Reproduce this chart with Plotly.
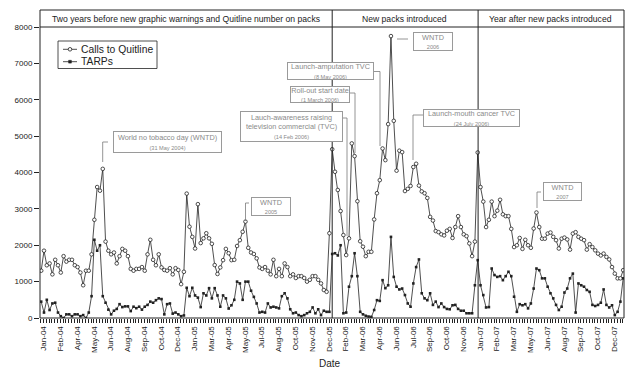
import datetime as dt
import plotly.graph_objects as go

# ---------------- data (weekly) ----------------
START = dt.date(2004, 1, 4)

CALLS = [
    1300, 1850, 1450, 1500, 1200, 1600, 1450, 1250, 1700, 1550,   # 0-9
    1600, 1600, 1450, 1400, 1250, 900, 1300, 1300, 1750, 2700,    # 10-19
    3600, 3500, 4100, 2100, 1850, 1750, 1800, 1500, 1700, 1900,   # 20-29
    1850, 1700, 1350, 1300, 1350, 1350, 1400, 1300, 1750, 2150,   # 30-39
    1600, 1450, 1750, 1390, 1320, 1300, 1370, 1200, 1370, 1320,   # 40-49
    930, 1270, 3420, 2510, 2230, 1910, 3130, 2060, 2190, 2330,    # 50-59
    2190, 2040, 1455, 1210, 1390, 1590, 1900, 1780, 1590, 1600,   # 60-69
    1980, 2140, 2370, 2650, 1930, 1800, 1760, 1640, 1390, 1350,   # 70-79
    1400, 1300, 1200, 1600, 1150, 1350, 1150, 1500, 1400, 1150,   # 80-89
    1200, 1100, 1150, 1150, 1100, 1000, 1050, 1150, 1150, 1050,   # 90-99
    950, 770, 720, 2330, 4640, 4020, 3520, 2940, 2280, 1730,      # 100-109
    2190, 4800, 4450, 3210, 2110, 1960, 1700, 1820, 1820, 2710,   # 110-119
    3430, 3790, 4660, 4340, 5330, 7750, 5420, 4050, 4600, 4560,   # 120-129
    3490, 3550, 3630, 4150, 4240, 3640, 3480, 3430, 3300, 2780,   # 130-139
    2680, 2390, 2360, 2300, 2270, 2400, 2450, 2200, 2500, 2800,   # 140-149
    2500, 2300, 2250, 2050, 1700, 2100, 4550, 3600, 3200, 2500,   # 150-159
    2700, 3200, 2800, 2950, 3250, 2850, 2800, 2800, 2450, 1950,   # 160-169
    2000, 2200, 1900, 2150, 2000, 1930, 2460, 2900, 2500, 2180,   # 170-179
    2180, 2320, 2350, 2230, 2140, 1910, 2180, 2210, 2160, 1880,   # 180-189
    2320, 2360, 2230, 2180, 2140, 1880, 2030, 1950, 1860, 1770,   # 190-199
    1720, 1770, 1680, 1610, 1400, 1220, 1090, 1090, 1315,         # 200-208
]

TARPS = [
    450, 150, 500, 220, 400, 420, 150, 50, 0, 100,
    100, 50, 100, 100, 50, 80, 0, 150, 600, 2150,
    1850, 2000, 600, 420, 230, 100, 200, 250, 380, 300,
    320, 320, 190, 310, 270, 310, 230, 310, 360, 450,
    420, 490, 540, 520, 100, 380, 400, 120, 150, 100,
    50, 70, 830, 600, 830, 620, 560, 300, 680, 620,
    820, 540, 820, 620, 310, 620, 540, 260, 350, 500,
    1000, 950, 500, 1000, 1000, 750, 580, 400, 150, 170,
    150, 400, 290, 310, 290, 265, 600, 680, 540, 240,
    130, 150, 80, 50, 80, 130, 170, 290, 130, 240,
    80, 200, 170, 170, 1760, 1780, 1720, 2000, 130, 150,
    860, 1150, 1780, 1150, 170, 100, 60, 40, 30, 220,
    490, 470, 1040, 820, 900, 2230, 1130, 860, 785, 810,
    630, 400, 310, 950, 1400, 1610, 680, 540, 490, 680,
    360, 450, 300, 400, 300, 250, 240, 350, 360, 250,
    200, 200, 130, 130, 130, 900, 1590, 900, 630, 290,
    300, 1360, 1180, 1130, 1150, 1040, 1150, 1270, 1150, 585,
    170, 380, 350, 380, 265, 400, 810, 1360, 1315, 1090,
    1090, 860, 680, 540, 360, 220, 310, 700, 810, 1090,
    1220, 150, 950, 900, 860, 770, 720, 360, 330, 360,
    420, 785, 360, 290, 350, 80, 170, 450, 1090,
]

TICK_START = dt.date(2004, 1, 10)
TICK_LABELS = [
    "Jan-04", "Feb-04", "Apr-04", "May-04", "Jun-04", "Aug-04", "Sep-04",
    "Oct-04", "Dec-04", "Jan-05", "Mar-05", "Apr-05", "May-05", "Jul-05",
    "Aug-05", "Oct-05", "Nov-05", "Dec-05", "Feb-06", "Mar-06", "Apr-06",
    "Jun-06", "Jul-06", "Sep-06", "Oct-06", "Nov-06", "Jan-07", "Feb-07",
    "Mar-07", "May-07", "Jun-07", "Aug-07", "Sep-07", "Oct-07", "Dec-07",
]
PERIODS = [
    ("Two years before new graphic warnings and Quitline number on packs", "2004-01-01", "2006-01-01"),
    ("New packs introduced", "2006-01-01", "2007-01-01"),
    ("Year after new packs introduced", "2007-01-01", "2008-01-01"),
]
SERIES_NAMES = ["Calls to Quitline", "TARPs"]

dates = [START + dt.timedelta(weeks=i) for i in range(len(CALLS))]
tick_vals = [TICK_START + dt.timedelta(weeks=6 * i) for i in range(len(TICK_LABELS))]

FONT = "Liberation Sans, Arial, sans-serif"
INK = "#222222"
GREY = "#8a8a8a"

fig = go.Figure()
fig.add_trace(go.Scatter(
    x=dates, y=CALLS, mode="lines+markers", name=SERIES_NAMES[0],
    line=dict(color=INK, width=0.8),
    marker=dict(symbol="circle", size=3.6, color="white", line=dict(color=INK, width=0.8)),
))
fig.add_trace(go.Scatter(
    x=dates, y=TARPS, mode="lines+markers", name=SERIES_NAMES[1],
    line=dict(color=INK, width=0.8),
    marker=dict(symbol="square", size=2.6, color=INK),
))

# ---------- layout geometry helpers (pixel -> paper) ----------
L, R, T, B, W, H = 40, 16, 27, 56, 640, 374
PW, PH = W - L - R, H - T - B


def px(x):
    return (x - L) / PW


def py(y):
    return (H - B - y) / PH


HEADER_TOP = py(10)

shapes = []
shapes.append(dict(type="rect", xref="paper", yref="paper", x0=0, y0=0, x1=1, y1=HEADER_TOP,
                   line=dict(color=INK, width=1)))
shapes.append(dict(type="line", xref="paper", yref="paper", x0=0, y0=1, x1=1, y1=1,
                   line=dict(color=INK, width=1)))
for _, a, b in PERIODS[1:]:
    shapes.append(dict(type="line", xref="x", yref="paper", x0=a, x1=a, y0=0, y1=HEADER_TOP,
                       line=dict(color=INK, width=1)))

annotations = []
for label, a, b in PERIODS:
    da, db = dt.date.fromisoformat(a), dt.date.fromisoformat(b)
    mid = da + (db - da) / 2
    annotations.append(dict(text=label, x=mid, xref="x", y=py(18.5), yref="paper",
                            showarrow=False, font=dict(size=8.6, color=INK, family=FONT),
                            xanchor="center", yanchor="middle"))

# callout boxes: (center px, center py, width, height, lines)
CALLOUTS = [
    (167.5, 142, 107, 20, ["World no tobacco day (WNTD)", "(31 May 2004)"]),
    (271, 206.5, 38, 17, ["WNTD", "2005"]),
    (291.5, 126.5, 101, 29, ["Lauch-awareness raising", "television commercial (TVC)", "(14 Feb 2006)"]),
    (320, 94.5, 58, 15, ["Roll-out start date", "(1 March 2006)"]),
    (330.5, 71, 85, 16, ["Launch-amputation TVC", "(8 May 2006)"]),
    (433, 41.5, 38, 17, ["WNTD", "2006"]),
    (471.5, 118, 95, 16, ["Launch-mouth cancer TVC", "(24 July 2006)"]),
    (562.5, 191.5, 37, 17, ["WNTD", "2007"]),
]
for cx, cy, w, h, lines in CALLOUTS:
    parts = []
    for i, t in enumerate(lines):
        small = (i == len(lines) - 1)
        parts.append(f"<span style='font-size:{5.6 if small else 7.3}px'>{t}</span>")
    annotations.append(dict(text="<br>".join(parts), x=px(cx), y=py(cy), xref="paper", yref="paper",
                            xanchor="center", yanchor="middle",
                            showarrow=False, width=w, height=h, align="center", valign="middle",
                            bordercolor="#9a9a9a", borderwidth=1, borderpad=0, bgcolor="white",
                            font=dict(size=7.3, color=GREY, family=FONT)))

LEADERS = [
    [(102.7, 162), (102.7, 142), (108, 142)],
    [(245.5, 221), (245.5, 203), (249, 203)],
    [(343, 118), (347, 118), (347, 236)],
    [(350, 93), (355, 93), (355, 153)],
    [(374, 71.5), (380, 71.5), (380, 146)],
    [(397, 39), (408, 39)],
    [(423, 115), (413, 115), (413, 160)],
    [(541, 192), (537, 192), (537, 208)],
]
for pts in LEADERS:
    for (x0, y0), (x1, y1) in zip(pts[:-1], pts[1:]):
        shapes.append(dict(type="line", xref="paper", yref="paper", x0=px(x0), y0=py(y0),
                           x1=px(x1), y1=py(y1), line=dict(color="#7a7a7a", width=0.8)))

# hand-drawn legend box (compact like the reference)
shapes.append(dict(type="rect", xref="paper", yref="paper", x0=px(58), y0=py(41), x1=px(157), y1=py(68.5),
                   line=dict(color=INK, width=0.8), fillcolor="white"))
for i, yy in enumerate([49.3, 61.7]):
    shapes.append(dict(type="line", xref="paper", yref="paper", x0=px(63), x1=px(77), y0=py(yy), y1=py(yy),
                       line=dict(color=INK, width=0.8)))
    if i == 0:
        shapes.append(dict(type="circle", xref="paper", yref="paper", x0=px(68.2), x1=px(71.8),
                           y0=py(yy + 1.8), y1=py(yy - 1.8), line=dict(color=INK, width=0.8), fillcolor="white"))
    else:
        shapes.append(dict(type="rect", xref="paper", yref="paper", x0=px(68.6), x1=px(71.4),
                           y0=py(yy + 1.4), y1=py(yy - 1.4), line=dict(color=INK, width=0.5), fillcolor=INK))
    annotations.append(dict(text=SERIES_NAMES[i], x=px(79), y=py(yy), xref="paper", yref="paper",
                            xanchor="left", yanchor="middle", showarrow=False,
                            font=dict(size=10.3, color=INK, family=FONT)))

annotations.append(dict(text="Date", x=px(330), y=py(364), xref="paper", yref="paper", showarrow=False,
                        font=dict(size=10, color=INK, family=FONT), xanchor="center", yanchor="middle"))

fig.update_layout(
    width=W, height=H, margin=dict(l=L, r=R, t=T, b=B),
    paper_bgcolor="white", plot_bgcolor="white",
    font=dict(family=FONT, color=INK, size=8),
    showlegend=False,
    shapes=shapes, annotations=annotations,
    xaxis=dict(type="date", range=["2004-01-01", "2008-01-01"], showgrid=False, zeroline=False,
               tickmode="array", tickvals=tick_vals, ticktext=TICK_LABELS, tickangle=-90,
               ticks="outside", ticklen=4, tickwidth=0.6, tickcolor=INK,
               tickfont=dict(size=8, family=FONT, color=INK),
               minor=dict(tick0=str(TICK_START), dtick=7 * 86400000, ticks="outside", ticklen=4,
                          tickwidth=0.6, tickcolor=INK),
               showline=False),
    yaxis=dict(range=[0, 8000], tickvals=list(range(0, 8001, 1000)), showgrid=False, zeroline=False,
               ticks="outside", ticklen=5, tickwidth=0.8, tickcolor=INK,
               tickfont=dict(size=8, family=FONT, color=INK), showline=False),
)

fig.write_html("out.html", config={"displayModeBar": False},
               post_script="document.body.style.margin='0';document.body.style.overflow='hidden';")
